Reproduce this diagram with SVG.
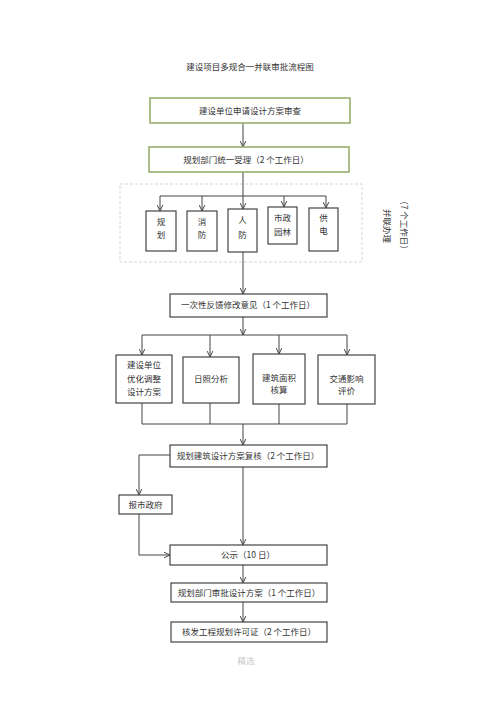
<svg xmlns="http://www.w3.org/2000/svg" width="500" height="708" viewBox="0 0 500 708">
<defs>
<marker id="arr" viewBox="0 0 10 10" refX="9.5" refY="5" markerWidth="7" markerHeight="7" markerUnits="userSpaceOnUse" orient="auto">
<path d="M1,1 L9.5,5 L1,9" fill="none" stroke="#444" stroke-width="1.4"/>
</marker>
</defs>
<style>
text{font-family:"Noto Sans CJK SC","Noto Sans",sans-serif;font-size:8.5px;fill:#333;text-anchor:middle}
.g{fill:#fff;stroke:#9aae6c;stroke-width:1.6}
.b{fill:#fff;stroke:#444;stroke-width:1.2}
.c{fill:none;stroke:#444;stroke-width:1}
.ca{fill:none;stroke:#444;stroke-width:1;marker-end:url(#arr)}
</style>
<rect width="500" height="708" fill="#fff"/>
<text x="250" y="70" font-size="9">建设项目多规合一并联审批流程图</text>
<rect x="120" y="184" width="242" height="78" fill="#fff" stroke="#d6d6d6" stroke-width="1" stroke-dasharray="3,2"/>
<g id="side"><text transform="translate(401,225) rotate(90)" font-size="8">（7 个工作日）</text><text transform="translate(384,226) rotate(90)" font-size="8">并联办理</text></g>
<g id="connectors">
<path class="ca" d="M243,123 V147"/>
<path class="ca" d="M243,172 V209"/>
<path class="c" d="M160,196 H326"/>
<path class="ca" d="M160,196 V211"/>
<path class="ca" d="M202,196 V211"/>
<path class="ca" d="M284,196 V207"/>
<path class="ca" d="M326,196 V208"/>
<path class="ca" d="M243,252 V294"/>
<path class="ca" d="M243,317 V335"/>
<path class="c" d="M142,335 H347"/>
<path class="ca" d="M142,335 V355"/>
<path class="ca" d="M210,335 V357"/>
<path class="ca" d="M279,335 V354"/>
<path class="ca" d="M347,335 V355"/>
<path class="c" d="M142,403 V424 M210,403 V424 M279,404 V424 M347,404 V424 M142,424 H347"/>
<path class="ca" d="M243,424 V445"/>
<path class="ca" d="M170,455 H139 V495"/>
<path class="ca" d="M139,514 V555 H170"/>
<path class="ca" d="M243,467 V545"/>
<path class="ca" d="M243,565 V583"/>
<path class="ca" d="M243,602 V622"/>
</g>
<g id="n1"><rect class="g" x="150" y="98" width="200" height="25"/><text x="250" y="114">建设单位申请设计方案审查</text></g>
<g id="n2"><rect class="g" x="149" y="147" width="200" height="25"/><text x="246" y="163">规划部门统一受理（2 个工作日）</text></g>
<g id="n3"><rect class="b" x="146" y="211" width="30" height="40"/><text x="161" y="225">规</text><text x="161" y="238">划</text></g>
<g id="n4"><rect class="b" x="187" y="211" width="30" height="40"/><text x="202" y="225">消</text><text x="202" y="238">防</text></g>
<g id="n5"><rect class="b" x="228" y="209" width="29" height="43"/><text x="242.5" y="223">人</text><text x="242.5" y="238">防</text></g>
<g id="n6"><rect class="b" x="268" y="207" width="29" height="37"/><text x="282.5" y="221">市政</text><text x="282.5" y="235">园林</text></g>
<g id="n7"><rect class="b" x="309" y="208" width="29" height="43"/><text x="323.5" y="221">供</text><text x="323.5" y="234">电</text></g>
<g id="n8"><rect class="b" x="170" y="294" width="157" height="23"/><text x="248" y="308">一次性反馈修改意见（1 个工作日）</text></g>
<g id="n9"><rect class="b" x="116" y="355" width="56" height="48"/><text x="144" y="368">建设单位</text><text x="144" y="382">优化调整</text><text x="144" y="395">设计方案</text></g>
<g id="n10"><rect class="b" x="183" y="357" width="56" height="46"/><text x="211" y="382">日照分析</text></g>
<g id="n11"><rect class="b" x="253" y="354" width="52" height="50"/><text x="279" y="381">建筑面积</text><text x="279" y="393">核算</text></g>
<g id="n12"><rect class="b" x="318" y="355" width="57" height="49"/><text x="346.5" y="382">交通影响</text><text x="346.5" y="394">评价</text></g>
<g id="n13"><rect class="b" x="170" y="445" width="157" height="22"/><text x="248" y="459">规划建筑设计方案复核（2 个工作日）</text></g>
<g id="n14"><rect class="b" x="119" y="495" width="53" height="19"/><text x="145.5" y="507.5">报市政府</text></g>
<g id="n15"><rect class="b" x="170" y="545" width="157" height="20"/><text x="248" y="558">公示（10 日）</text></g>
<g id="n16"><rect class="b" x="171" y="583" width="156" height="19"/><text x="249" y="595.5">规划部门审批设计方案（1 个工作日）</text></g>
<g id="n17"><rect class="b" x="171" y="622" width="156" height="20"/><text x="249" y="635">核发工程规划许可证（2 个工作日）</text></g>
<text x="246" y="664" font-size="6" style="fill:#c8c8c8">精选</text>
</svg>
